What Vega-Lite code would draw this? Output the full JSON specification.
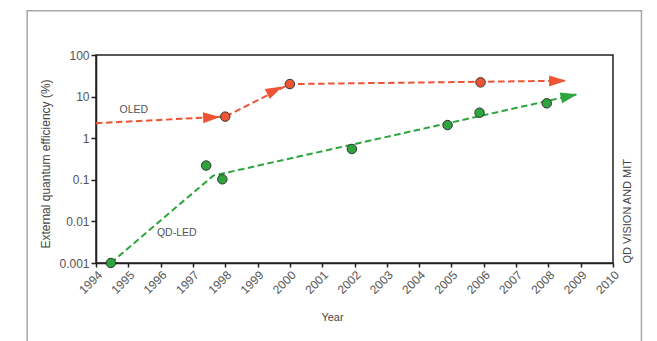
{
  "$schema": "https://vega.github.io/schema/vega-lite/v6.json",
  "width": 517,
  "height": 208,
  "autosize": {"type": "none"},
  "padding": {"left": 96, "top": 55, "right": 44, "bottom": 78},
  "background": "white",
  "config": {
    "font": "Liberation Sans",
    "view": {"stroke": "#231f20", "strokeWidth": 1.5},
    "axis": {
      "grid": false,
      "domainColor": "#231f20",
      "domainWidth": 1.5,
      "tickColor": "#231f20",
      "tickWidth": 1.5,
      "tickSize": 5,
      "labelColor": "#555555",
      "labelFontSize": 12,
      "titleColor": "#444444",
      "titleFontSize": 12,
      "titleFontWeight": "normal"
    }
  },
  "datasets": {
    "trend": [
      {"series": "OLED", "year": 1994, "value": 2.3},
      {"series": "OLED", "year": 1998, "value": 3.3},
      {"series": "OLED", "year": 2000, "value": 20},
      {"series": "OLED", "year": 2008.55, "value": 24.1},
      {"series": "QD-LED", "year": 1994.46, "value": 0.001},
      {"series": "QD-LED", "year": 1997.63, "value": 0.126},
      {"series": "QD-LED", "year": 2008.9, "value": 11.4}
    ],
    "measured": [
      {"series": "OLED", "year": 1998, "value": 3.3},
      {"series": "OLED", "year": 2000, "value": 20},
      {"series": "OLED", "year": 2005.9, "value": 22},
      {"series": "QD-LED", "year": 1994.46, "value": 0.001},
      {"series": "QD-LED", "year": 1997.41, "value": 0.22},
      {"series": "QD-LED", "year": 1997.91, "value": 0.103},
      {"series": "QD-LED", "year": 2001.92, "value": 0.55},
      {"series": "QD-LED", "year": 2004.88, "value": 2.07},
      {"series": "QD-LED", "year": 2005.87, "value": 4.1},
      {"series": "QD-LED", "year": 2007.95, "value": 6.9}
    ],
    "tips": [
      {"series": "OLED", "leg": 1, "year": 1997.84, "value": 3.25},
      {"series": "OLED", "leg": 2, "year": 1999.77, "value": 17.6},
      {"series": "OLED", "leg": 3, "year": 2008.55, "value": 24.1},
      {"series": "QD-LED", "leg": 4, "year": 2008.9, "value": 11.4}
    ],
    "notes": [
      {"label": "OLED", "year": 1995.17, "value": 4.77},
      {"label": "QD-LED", "year": 1996.5, "value": 0.0054}
    ]
  },
  "layer": [
    {
      "data": {"values": [{}]},
      "mark": {"type": "rect", "fill": null, "stroke": "#a8a8a8", "strokeWidth": 1.5, "clip": false},
      "encoding": {
        "x": {"datum": 1991.87, "type": "quantitative", "scale": {"domain": [1994, 2010], "nice": false, "zero": false}, "axis": null},
        "x2": {"datum": 2010.88},
        "y": {"datum": 1161, "type": "quantitative", "scale": {"type": "log", "domain": [0.001, 100], "nice": false}, "axis": null},
        "y2": {"datum": 1e-8}
      }
    },
    {
      "data": {"name": "trend"},
      "mark": {"type": "line", "strokeWidth": 2, "strokeDash": [6.5, 3.5]},
      "encoding": {
        "x": {
          "field": "year", "type": "quantitative",
          "axis": {
            "values": [1994, 1995, 1996, 1997, 1998, 1999, 2000, 2001, 2002, 2003, 2004, 2005, 2006, 2007, 2008, 2009, 2010],
            "format": "d",
            "labelAngle": -45,
            "labelFontSize": 12,
            "tickSize": 4,
            "labelPadding": 2,
            "title": "Year",
            "titleFontSize": 11,
            "titleX": 236,
            "titleY": 54,
            "titleBaseline": "middle"
          }
        },
        "y": {
          "field": "value", "type": "quantitative",
          "axis": {
            "values": [0.001, 0.01, 0.1, 1, 10, 100],
            "format": "~g",
            "labelPadding": 2,
            "title": "External quantum efficiency (%)",
            "titleX": -51,
            "titleY": 108.5,
            "titleAlign": "center",
            "titleBaseline": "middle"
          }
        },
        "color": {"field": "series", "type": "nominal", "scale": {"domain": ["OLED", "QD-LED"], "range": ["#ec5435", "#2ea53c"]}, "legend": null}
      }
    },
    {
      "data": {"name": "tips"},
      "transform": [{"filter": "datum.leg == 1"}],
      "mark": {"type": "point", "shape": "M0,0L-2,-0.65L-2,0.65Z", "filled": true, "size": 289, "angle": -2.9, "opacity": 1, "strokeWidth": 0},
      "encoding": {
        "x": {"field": "year", "type": "quantitative", "axis": null},
        "y": {"field": "value", "type": "quantitative", "axis": null},
        "color": {"field": "series", "type": "nominal", "legend": null}
      }
    },
    {
      "data": {"name": "tips"},
      "transform": [{"filter": "datum.leg == 2"}],
      "mark": {"type": "point", "shape": "M0,0L-2,-0.65L-2,0.65Z", "filled": true, "size": 289, "angle": -26.7, "opacity": 1, "strokeWidth": 0},
      "encoding": {
        "x": {"field": "year", "type": "quantitative", "axis": null},
        "y": {"field": "value", "type": "quantitative", "axis": null},
        "color": {"field": "series", "type": "nominal", "legend": null}
      }
    },
    {
      "data": {"name": "tips"},
      "transform": [{"filter": "datum.leg == 3"}],
      "mark": {"type": "point", "shape": "M0,0L-2,-0.65L-2,0.65Z", "filled": true, "size": 289, "angle": -0.7, "opacity": 1, "strokeWidth": 0},
      "encoding": {
        "x": {"field": "year", "type": "quantitative", "axis": null},
        "y": {"field": "value", "type": "quantitative", "axis": null},
        "color": {"field": "series", "type": "nominal", "legend": null}
      }
    },
    {
      "data": {"name": "tips"},
      "transform": [{"filter": "datum.leg == 4"}],
      "mark": {"type": "point", "shape": "M0,0L-2,-0.65L-2,0.65Z", "filled": true, "size": 289, "angle": -12.6, "opacity": 1, "strokeWidth": 0},
      "encoding": {
        "x": {"field": "year", "type": "quantitative", "axis": null},
        "y": {"field": "value", "type": "quantitative", "axis": null},
        "color": {"field": "series", "type": "nominal", "legend": null}
      }
    },
    {
      "data": {"name": "measured"},
      "mark": {"type": "point", "shape": "circle", "filled": true, "size": 90, "opacity": 1, "stroke": "#333333", "strokeWidth": 1},
      "encoding": {
        "x": {"field": "year", "type": "quantitative", "axis": null},
        "y": {"field": "value", "type": "quantitative", "axis": null},
        "color": {"field": "series", "type": "nominal", "legend": null}
      }
    },
    {
      "data": {"name": "notes"},
      "mark": {"type": "text", "fontSize": 10.5, "color": "#555555"},
      "encoding": {
        "x": {"field": "year", "type": "quantitative", "axis": null},
        "y": {
          "field": "value", "type": "quantitative",
          "axis": {
            "orient": "right",
            "domain": false,
            "ticks": false,
            "labels": false,
            "title": "QD VISION AND MIT",
            "titleFontSize": 11,
            "titleAngle": 270,
            "titleX": 14,
            "titleY": 208,
            "titleAlign": "left",
            "titleBaseline": "middle"
          }
        },
        "text": {"field": "label"}
      }
    }
  ],
  "resolve": {"axis": {"x": "independent", "y": "independent"}}
}
